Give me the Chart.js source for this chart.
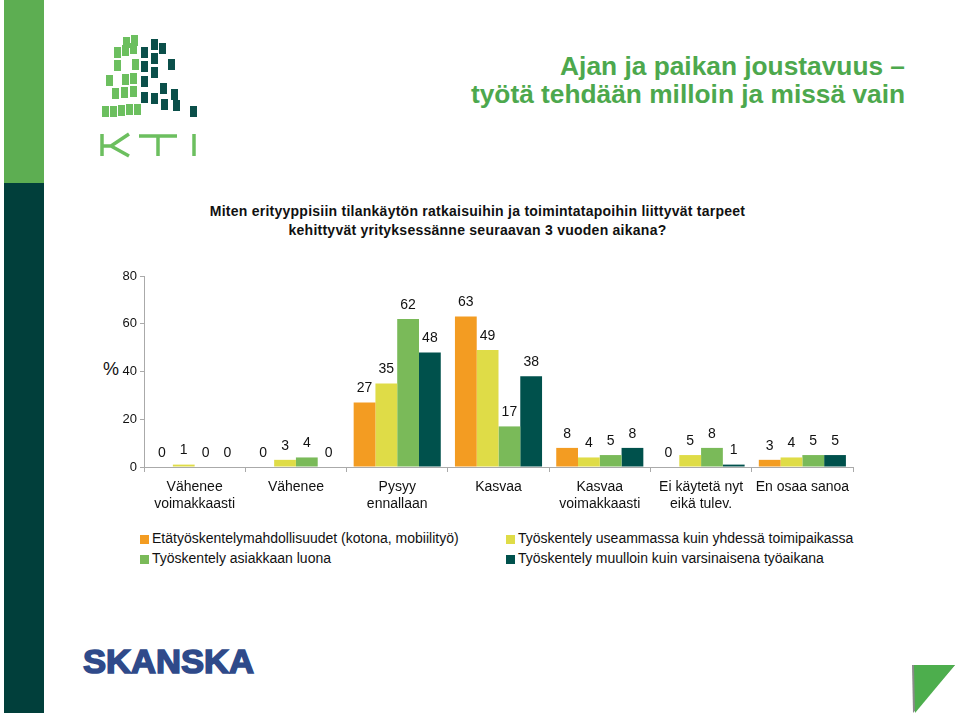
<!DOCTYPE html>
<html lang="fi">
<head>
  <meta charset="UTF-8">
  <title>Ajan ja paikan joustavuus</title>
  <style>
    body { margin: 0; width: 960px; height: 716px; background: #fff; position: relative; overflow: hidden;
           font-family: "Liberation Sans", Arial, sans-serif; }
    .strip1 { position: absolute; left: 4px; top: 0; width: 40px; height: 183px; background: #5dae52; }
    .strip2 { position: absolute; left: 4px; top: 183px; width: 40px; height: 530px; background: #013f3b; }
    #otsikko { position: absolute; right: 55px; top: 52px; text-align: right; color: #4da84d;
               font-weight: bold; font-size: 26.3px; line-height: 28px; }
    #kysymys { position: absolute; left: 170px; width: 615px; top: 202px; text-align: center;
               font-weight: bold; font-size: 14px; line-height: 19px; letter-spacing: 0.25px; color: #111; }
    #pros { position: absolute; left: 103px; top: 359px; font-size: 18px; color: #111; }
    #kuva { position: absolute; left: 95px; top: 262px; }
    #selite { position: absolute; left: 140px; top: 530px; width: 740px; font-size: 14px; color: #111; }
    #selite div { position: absolute; white-space: nowrap; }
    #selite span { display: inline-block; width: 9px; height: 9px; margin-right: 3px; vertical-align: -1px; }
    svg { position: absolute; }
  </style>
</head>
<body>
  <div class="strip1"></div>
  <div class="strip2"></div>

  <!-- KTI logo -->
  <svg style="left:95px;top:30px" width="110" height="130" viewBox="95 30 110 130">
    <g fill="#6cbf5f" id="vaaleat"></g>
    <g fill="#0b4f4a" id="tummat"></g>
    <g stroke="#6cbf5f" stroke-width="3.5" fill="none">
      <path d="M102 134 V156 M102 146 H111 L129 134 M111 146 L129 156"/>
      <path d="M139 136 H177 M158 136 V156"/>
      <path d="M194 134 V156"/>
    </g>
  </svg>

  <div id="otsikko">Ajan ja paikan joustavuus –<br>työtä tehdään milloin ja missä vain</div>
  <div id="kysymys">Miten erityyppisiin tilankäytön ratkaisuihin ja toimintatapoihin liittyvät tarpeet<br>kehittyvät yrityksessänne seuraavan 3 vuoden aikana?</div>
  <div id="pros">%</div>
  <canvas id="kuva" width="775" height="262"></canvas>
  <div id="selite"></div>

  <!-- Skanska -->
  <svg style="left:80px;top:640px" width="180" height="40">
    <text x="3" y="33" textLength="171" lengthAdjust="spacingAndGlyphs" font-family="Liberation Sans, Arial" font-weight="bold"
          font-size="34" fill="#2f4a8a" stroke="#2f4a8a" stroke-width="1.6">SKANSKA</text>
  </svg>
  <svg style="left:908px;top:662px" width="50" height="54">
    <polygon points="4,3 47,3 5,51" fill="#8a8a8a"/>
    <polygon points="6,3 47,3 7,51" fill="#4dae4d"/>
  </svg>

  <script src="https://cdn.jsdelivr.net/npm/chart.js"></script>
  <script>
    const kategoriat = [
      ['Vähenee', 'voimakkaasti'],
      ['Vähenee'],
      ['Pysyy', 'ennallaan'],
      ['Kasvaa'],
      ['Kasvaa', 'voimakkaasti'],
      ['Ei käytetä nyt', 'eikä tulev.'],
      ['En osaa sanoa']
    ];
    const sarjat = [
      'Etätyöskentelymahdollisuudet (kotona, mobiilityö)',
      'Työskentely useammassa kuin yhdessä toimipaikassa',
      'Työskentely asiakkaan luona',
      'Työskentely muulloin kuin varsinaisena työaikana'
    ];
    const etatyo = [0, 0, 27, 63, 8, 0, 3];
    const useampi = [1, 3, 35, 49, 4, 5, 4];
    const asiakas = [0, 4, 62, 17, 5, 8, 5];
    const muulloin = [0, 0, 48, 38, 8, 1, 5];
    const varit = ['#f39c22', '#dfdc47', '#7aba59', '#00514c'];
    const yTicks = [0, 20, 40, 60, 80];

    // logon neliöt (vaaleat ja tummat)
    const vaaleat = [[102,106],[110,106],[118,105],[126,104],[134,104],[112,88],[121,87],[130,86],
                     [106,75],[122,74],[130,73],[114,60],[132,59],[114,47],[122,45],[130,43],[123,37],[131,35]];
    const tummat = [[141,47],[141,61],[141,76],[141,92],[151,39],[151,53],[151,67],[151,93],[159,43],
                    [160,83],[161,99],[168,59],[171,89],[173,100],[190,106]];
    const ns = 'http://www.w3.org/2000/svg';
    function piirraNeliot(id, lista) {
      const g = document.getElementById(id);
      lista.forEach(p => {
        const r = document.createElementNS(ns, 'rect');
        r.setAttribute('x', p[0]); r.setAttribute('y', p[1]);
        r.setAttribute('width', 7); r.setAttribute('height', 11);
        g.appendChild(r);
      });
    }
    piirraNeliot('vaaleat', vaaleat);
    piirraNeliot('tummat', tummat);

    // selite
    const selite = document.getElementById('selite');
    const paikat = [[0, 0], [366, 0], [0, 20], [366, 20]];
    sarjat.forEach((nimi, i) => {
      const d = document.createElement('div');
      d.style.left = paikat[i][0] + 'px';
      d.style.top = paikat[i][1] + 'px';
      d.innerHTML = '<span style="background:' + varit[i] + '"></span>' + nimi;
      selite.appendChild(d);
    });

    // arvot palkkien päälle
    const arvot = {
      id: 'arvot',
      afterDatasetsDraw(chart) {
        const ctx = chart.ctx;
        ctx.save();
        ctx.font = '14px "Liberation Sans", Arial, sans-serif';
        ctx.fillStyle = '#111';
        ctx.textAlign = 'center';
        ctx.textBaseline = 'bottom';
        chart.data.datasets.forEach((ds, i) => {
          chart.getDatasetMeta(i).data.forEach((el, j) => {
            ctx.fillText(ds.data[j], el.x, el.y - 7);
          });
        });
        ctx.restore();
      }
    };

    const data = [etatyo, useampi, asiakas, muulloin];
    new Chart(document.getElementById('kuva').getContext('2d'), {
      type: 'bar',
      data: {
        labels: kategoriat,
        datasets: sarjat.map((nimi, i) => ({
          label: nimi,
          data: data[i],
          backgroundColor: varit[i],
          barPercentage: 1.0,
          categoryPercentage: 0.86
        }))
      },
      options: {
        responsive: false,
        animation: false,
        devicePixelRatio: 1,
        layout: { padding: { top: 14, right: 17, left: 0, bottom: 0 } },
        plugins: { legend: { display: false }, tooltip: { enabled: false } },
        scales: {
          x: {
            grid: { drawOnChartArea: false, tickLength: 5, color: '#aaa', offset: true },
            border: { color: '#aaa' },
            ticks: { color: '#111', font: { size: 14, family: '"Liberation Sans", Arial' }, padding: 7, maxRotation: 0 },
            afterFit(s) { s.height = 57; }
          },
          y: {
            min: 0, max: 80,
            afterBuildTicks(s) { s.ticks = yTicks.map(v => ({ value: v })); },
            grid: { drawOnChartArea: false, tickLength: 4, color: '#aaa' },
            border: { color: '#aaa' },
            ticks: { color: '#111', font: { size: 13, family: '"Liberation Sans", Arial' }, padding: 3 },
            afterFit(s) { s.width = 49; }
          }
        }
      },
      plugins: [arvot]
    });
  </script>
</body>
</html>
